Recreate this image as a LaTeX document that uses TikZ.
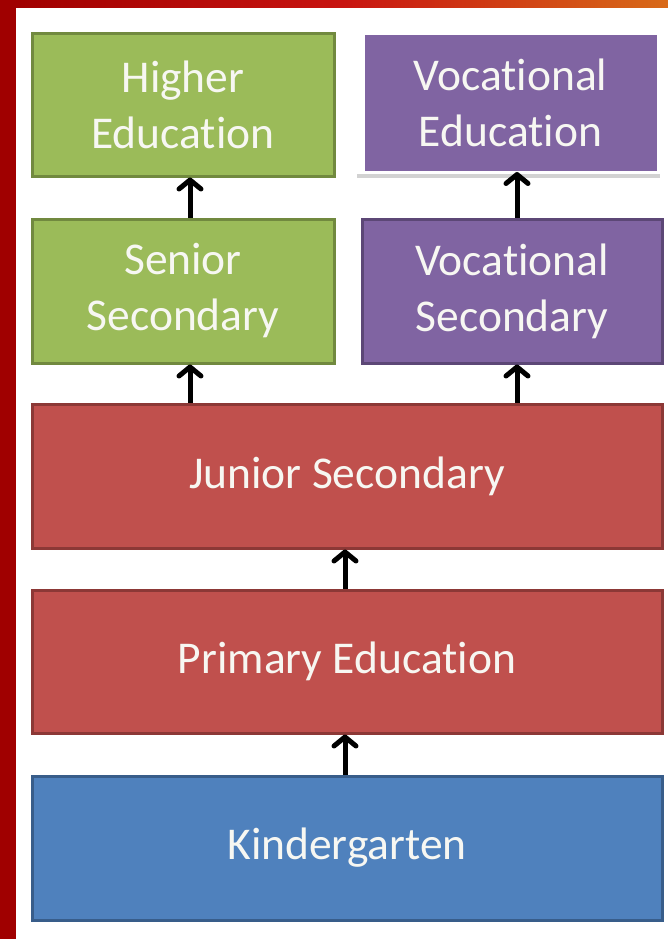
\documentclass[tikz,border=0pt]{standalone}
\usepackage{fontspec}
\setmainfont{Carlito}[Ligatures=NoCommon]
\usetikzlibrary{arrows.meta,calc}
\definecolor{grnF}{HTML}{9BBB59}
\definecolor{grnD}{HTML}{71893F}
\definecolor{purF}{HTML}{8064A2}
\definecolor{purD}{HTML}{5C4776}
\definecolor{redF}{HTML}{C0504D}
\definecolor{redD}{HTML}{8C3836}
\definecolor{bluF}{HTML}{4F81BD}
\definecolor{bluD}{HTML}{385D8A}
\definecolor{bgred}{HTML}{A00000}
\definecolor{bgred2}{HTML}{C81410}
\definecolor{bgorange}{HTML}{D86A18}
\definecolor{txtW}{HTML}{F7F7F2}
\begin{document}
\begin{tikzpicture}[x=1pt,y=-1pt,
  box/.style={rectangle, inner sep=0pt, align=center, text=txtW,
    font=\fontsize{45.5}{56}\selectfont, line width=3pt, anchor=north west},
  grnbox/.style={box, fill=grnF, draw=grnD},
  purbox/.style={box, fill=purF, draw=purD},
  redbox/.style={box, fill=redF, draw=redD},
  blubox/.style={box, fill=bluF, draw=bluD},
  arr/.style={line width=5pt, black, -{Straight Barb[length=9pt,width=22pt,line cap=round,line join=round]}}]
\useasboundingbox (0,0) rectangle (668,939);
\fill[white] (0,0) rectangle (668,939);
\fill[bgred] (0,0) rectangle (16,939);
\shade[left color=bgred, right color=bgorange, middle color=bgred2] (16,0) rectangle (668,8);

% coordinates for arrow columns
\coordinate (axl) at (190,0);
\coordinate (axr) at (517,0);
\coordinate (axm) at (345,0);

% VocEd shadow
\fill[gray!35] (357,174) rectangle (660,178);

\node[grnbox, minimum width=302pt, minimum height=142pt] (higher) at (30.5,32.5) {Higher\\Education};
\node[purbox, draw=none, minimum width=292pt, minimum height=135pt] (voced) at (363,34) {Vocational\\Education};
\node[grnbox, minimum width=302pt, minimum height=144pt] (senior) at (30.5,217.5) {Senior\\Secondary};
\node[purbox, minimum width=300pt, minimum height=144pt] (vocsec) at (360.5,217.5) {Vocational\\Secondary};
\node[redbox, minimum width=630pt, minimum height=144pt] (junior) at (30.5,402.5) {Junior Secondary};
\node[redbox, minimum width=630pt, minimum height=143pt] (primary) at (30.5,588.5) {Primary Education};
\node[blubox, minimum width=630pt, minimum height=144pt] (kinder) at (30.5,774.5) {Kindergarten};

\draw[arr] (senior.north -| axl) -- (higher.south -| axl);
\draw[arr] (vocsec.north -| axr) -- (voced.south -| axr);
\draw[arr] (junior.north -| axl) -- (senior.south -| axl);
\draw[arr] (junior.north -| axr) -- (vocsec.south -| axr);
\draw[arr] (primary.north -| axm) -- (junior.south -| axm);
\draw[arr] (kinder.north -| axm) -- (primary.south -| axm);
\end{tikzpicture}
\end{document}
